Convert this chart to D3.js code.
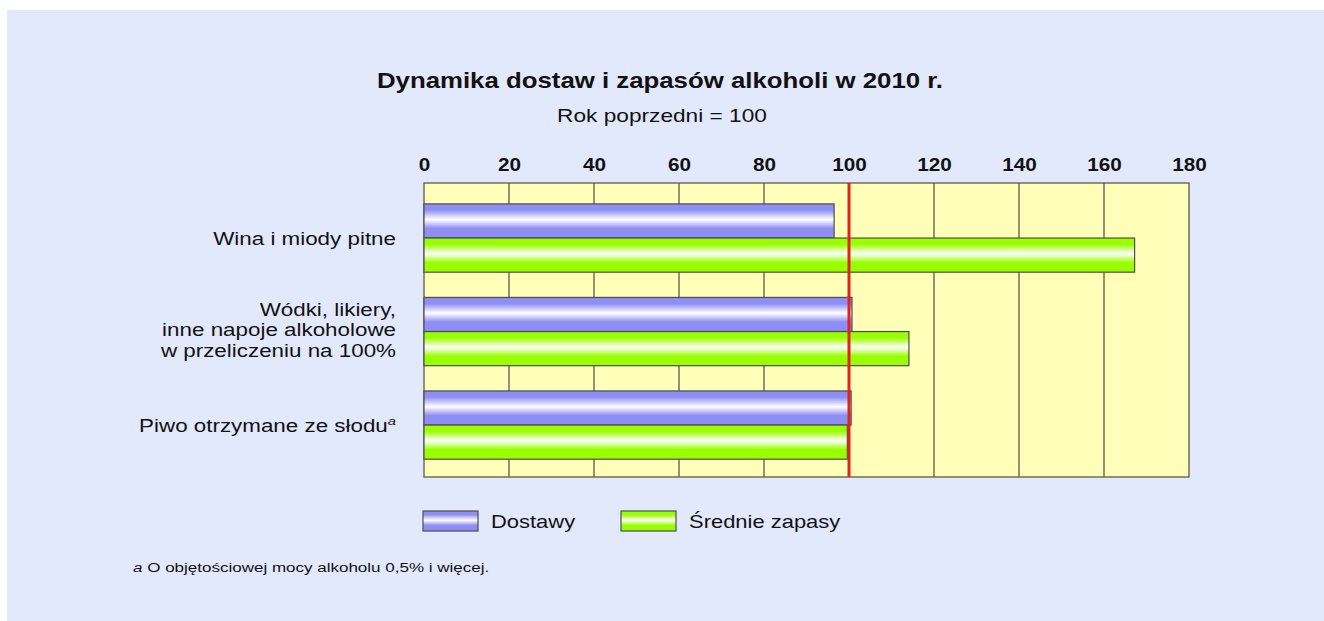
<!DOCTYPE html>
<html>
<head>
<meta charset="utf-8">
<script src="https://cdn.jsdelivr.net/npm/d3@7"></script>
<style>
  html, body { margin: 0; padding: 0; background: #ffffff; }
  svg { display: block; font-family: "Liberation Sans", Arial, sans-serif; }
</style>
</head>
<body>
<svg id="chart" width="1324" height="621"></svg>
<script>
// ---- data ----
const categories = [
  ["Wina i miody pitne"],
  ["Wódki, likiery,", "inne napoje alkoholowe", "w przeliczeniu na 100%"],
  ["Piwo otrzymane ze słodu"]
];
const categoryKeys = ["wina", "wodki", "piwo"];
const seriesNames = ["Dostawy", "Średnie zapasy"];
const dostawy = [96.5, 100.7, 100.5];
const sredniezapasy = [167.2, 114.1, 99.6];
const tickValues = [0, 20, 40, 60, 80, 100, 120, 140, 160, 180];
const referenceValue = 100;
const titleText = "Dynamika dostaw i zapasów alkoholi w 2010 r.";
const subtitleText = "Rok poprzedni = 100";
const footnoteText = " O objętościowej mocy alkoholu 0,5% i więcej.";

// ---- setup ----
const svg = d3.select("#chart");
const plot = { left: 424, right: 1189, top: 183, bottom: 477 };

svg.append("rect").attr("x", 7).attr("y", 10).attr("width", 1317).attr("height", 611).attr("fill", "#e3e9fc");

const defs = svg.append("defs");
function grad(id, c) {
  const g = defs.append("linearGradient").attr("id", id).attr("x1", 0).attr("y1", 0).attr("x2", 0).attr("y2", 1);
  [[0, c], [0.18, c], [0.46, "#ffffff"], [0.72, c], [1, c]].forEach(([o, col]) =>
    g.append("stop").attr("offset", o).attr("stop-color", col));
}
grad("gBlue", "#8e8ef4");
grad("gGreen", "#99ff00");
const fills = ["url(#gBlue)", "url(#gGreen)"];

const x = d3.scaleLinear().domain([0, 180]).range([plot.left, plot.right]);
const y = d3.scaleBand().domain(categoryKeys).range([plot.top, plot.bottom])
  .paddingInner(0.27).paddingOuter(0.207).align(0.54);
const ySub = d3.scaleBand().domain(seriesNames).range([0, y.bandwidth()]).padding(0);

function stretchedText(sel, px, py, anchor, sx) {
  return sel.append("text")
    .attr("transform", `translate(${px},${py}) scale(${sx},1)`)
    .attr("text-anchor", anchor);
}

// titles
stretchedText(svg, 660, 88, "middle", 1.2).attr("font-size", 21.5).attr("font-weight", "bold").attr("fill", "#111").text(titleText);
stretchedText(svg, 662, 122, "middle", 1.26).attr("font-size", 18).attr("fill", "#111").text(subtitleText);

// plot background
svg.append("rect").attr("x", plot.left).attr("y", plot.top)
  .attr("width", plot.right - plot.left).attr("height", plot.bottom - plot.top)
  .attr("fill", "#ffffb9");

// grid lines
svg.append("g").selectAll("line").data(tickValues.slice(1, -1)).join("line")
  .attr("x1", d => x(d)).attr("x2", d => x(d))
  .attr("y1", plot.top).attr("y2", plot.bottom)
  .attr("stroke", "#66664f").attr("stroke-width", 1.4);

// border
svg.append("rect").attr("x", plot.left).attr("y", plot.top)
  .attr("width", plot.right - plot.left).attr("height", plot.bottom - plot.top)
  .attr("fill", "none").attr("stroke", "#66664f").attr("stroke-width", 1.4);

// bars
const seriesValues = [dostawy, sredniezapasy];
seriesNames.forEach((s, si) => {
  svg.append("g").selectAll("rect").data(categoryKeys).join("rect")
    .attr("x", x(0))
    .attr("y", (k) => y(k) + ySub(s))
    .attr("width", (k, i) => x(seriesValues[si][i]) - x(0))
    .attr("height", ySub.bandwidth())
    .attr("fill", fills[si])
    .attr("stroke", "#4d4d4d").attr("stroke-width", 1.2);
});

// reference line
svg.append("line").attr("x1", x(referenceValue)).attr("x2", x(referenceValue))
  .attr("y1", plot.top).attr("y2", plot.bottom)
  .attr("stroke", "#e3231b").attr("stroke-width", 3);

// top axis
const axis = svg.append("g").attr("transform", `translate(0,${plot.top - 12})`)
  .call(d3.axisTop(x).tickValues(tickValues).tickSize(0).tickPadding(0).tickFormat(d3.format("d")));
axis.select(".domain").remove();
axis.selectAll("text")
  .attr("y", 0).attr("dy", 0)
  .attr("transform", "scale(1.12,1)")
  .attr("font-size", 18.5).attr("font-weight", "bold")
  .attr("font-family", "Liberation Sans, Arial, sans-serif").attr("fill", "#111");

// category labels
categories.forEach((lines, i) => {
  const cy = y(categoryKeys[i]) + y.bandwidth() / 2;
  const n = lines.length;
  lines.forEach((ln, j) => {
    const by = cy + 6.5 + (j - (n - 1) / 2) * 20.5 - (n > 1 ? 2 : 0);
    const t = stretchedText(svg, 396, by, "end", 1.28).attr("font-size", 17.5).attr("fill", "#111");
    t.append("tspan").text(ln);
    if (i === 2) {
      t.append("tspan").attr("font-size", 11.5).attr("font-style", "italic").attr("dy", -7).text("a");
    }
  });
});

// legend
const legendX = [423, 621];
seriesNames.forEach((s, si) => {
  svg.append("rect").attr("x", legendX[si]).attr("y", 511).attr("width", 55).attr("height", 20)
    .attr("fill", fills[si]).attr("stroke", "#4d4d4d").attr("stroke-width", 1.2);
  stretchedText(svg, legendX[si] + 68, 528, "start", 1.22).attr("font-size", 18).attr("fill", "#111").text(s);
});

// footnote
const fn = stretchedText(svg, 133, 572, "start", 1.26).attr("font-size", 13.5).attr("fill", "#111");
fn.append("tspan").attr("font-style", "italic").text("a");
fn.append("tspan").text(footnoteText);
</script>
</body>
</html>
